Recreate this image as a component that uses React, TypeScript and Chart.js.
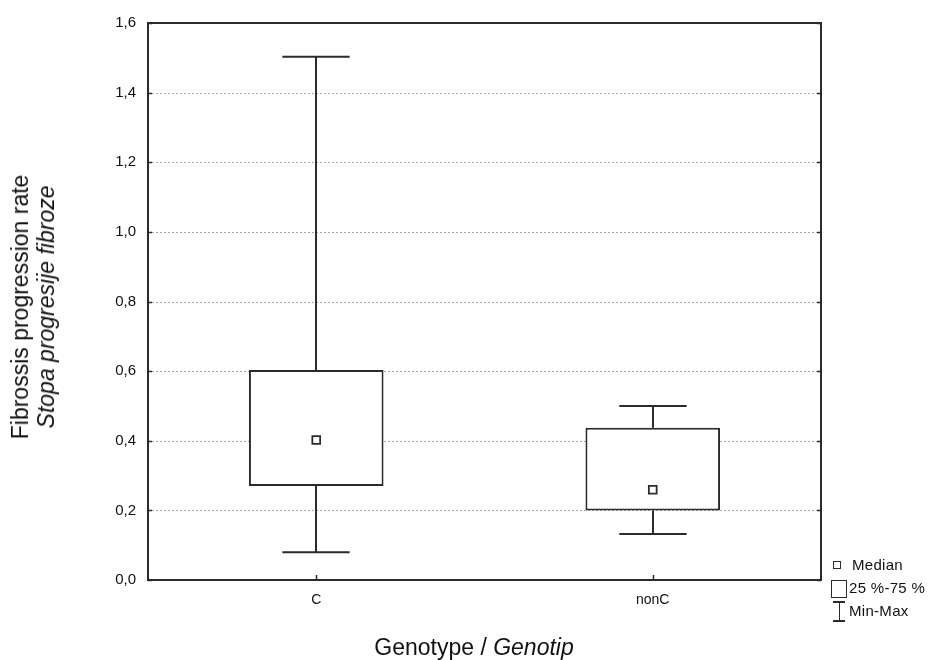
import React, { useEffect, useRef } from "react";
import { Chart, registerables } from "chart.js";

Chart.register(...registerables);

const categories = ["C", "nonC"];
const minValues = [0.08, 0.132];
const q1Values = [0.27, 0.2];
const medianValues = [0.402, 0.259];
const q3Values = [0.603, 0.437];
const maxValues = [1.503, 0.5];
const yTicks = [0, 0.2, 0.4, 0.6, 0.8, 1.0, 1.2, 1.4, 1.6];

const INK = "#2b2b2b";

const framePlugin = {
  id: "frameAndWhiskers",
  beforeDatasetsDraw(chart: any) {
    const { ctx, chartArea } = chart;
    const y = chart.scales.y;
    ctx.save();
    ctx.strokeStyle = "#a8a8a8";
    ctx.lineWidth = 1;
    ctx.setLineDash([2, 2]);
    yTicks.forEach((v) => {
      if (v <= 0 || v >= 1.6) return;
      const py = Math.round(y.getPixelForValue(v)) + 0.5;
      ctx.beginPath();
      ctx.moveTo(chartArea.left, py);
      ctx.lineTo(chartArea.right, py);
      ctx.stroke();
    });
    ctx.restore();
  },
  afterDatasetsDraw(chart: any) {
    const { ctx, chartArea } = chart;
    const x = chart.scales.x;
    const y = chart.scales.y;
    const meta = chart.getDatasetMeta(0);
    ctx.save();
    ctx.strokeStyle = INK;
    ctx.lineWidth = 2;
    ctx.setLineDash([]);
    categories.forEach((_, i) => {
      const bar = meta.data[i];
      const cx = Math.round(bar.x);
      const half = bar.width / 4;
      const yMax = y.getPixelForValue(maxValues[i]);
      const yQ3 = y.getPixelForValue(q3Values[i]);
      const yQ1 = y.getPixelForValue(q1Values[i]);
      const yMin = y.getPixelForValue(minValues[i]);
      ctx.beginPath();
      ctx.moveTo(cx, yQ3);
      ctx.lineTo(cx, yMax);
      ctx.moveTo(cx - half, yMax);
      ctx.lineTo(cx + half, yMax);
      ctx.moveTo(cx, yQ1);
      ctx.lineTo(cx, yMin);
      ctx.moveTo(cx - half, yMin);
      ctx.lineTo(cx + half, yMin);
      ctx.stroke();
    });
    ctx.strokeRect(chartArea.left, chartArea.top, chartArea.right - chartArea.left, chartArea.bottom - chartArea.top);
    ctx.lineWidth = 1.5;
    ctx.beginPath();
    yTicks.forEach((v) => {
      const py = Math.round(y.getPixelForValue(v)) + 0.5;
      ctx.moveTo(chartArea.left, py);
      ctx.lineTo(chartArea.left + 4, py);
      ctx.moveTo(chartArea.right, py);
      ctx.lineTo(chartArea.right - 4, py);
    });
    categories.forEach((_, i) => {
      const px = Math.round(x.getPixelForValue(i)) + 0.5;
      ctx.moveTo(px, chartArea.bottom);
      ctx.lineTo(px, chartArea.bottom - 5);
    });
    ctx.stroke();
    ctx.restore();
  },
};

export default function App() {
  const canvasRef = useRef<HTMLCanvasElement | null>(null);

  useEffect(() => {
    document.body.style.margin = "0";
    const canvas = canvasRef.current;
    if (!canvas) return;
    const chart = new Chart(canvas, {
      type: "bar",
      data: {
        labels: categories,
        datasets: [
          {
            type: "bar",
            data: categories.map((_, i) => [q1Values[i], q3Values[i]]) as any,
            backgroundColor: "#ffffff",
            borderColor: INK,
            borderWidth: 2,
            borderSkipped: false,
            barPercentage: 0.4,
            categoryPercentage: 1,
            order: 2,
          },
          {
            type: "line",
            data: medianValues,
            showLine: false,
            pointStyle: "rect",
            pointRadius: 5.5,
            pointBackgroundColor: "#ffffff",
            pointBorderColor: INK,
            pointBorderWidth: 1.8,
            order: 1,
          } as any,
        ],
      },
      options: {
        animation: false,
        responsive: false,
        devicePixelRatio: 1,
        layout: { padding: { left: 0, top: 23, right: 112, bottom: 0 } },
        plugins: { legend: { display: false }, tooltip: { enabled: false } },
        scales: {
          x: {
            grid: { display: false, drawTicks: false },
            border: { display: false },
            ticks: {
              color: "#111",
              padding: 12,
              font: { family: "'Liberation Sans', Arial, sans-serif", size: 14 },
            },
            afterFit(scale: any) {
              scale.height = 80;
            },
          },
          y: {
            min: 0,
            max: 1.6,
            grid: { display: false, drawTicks: false },
            border: { display: false },
            ticks: {
              stepSize: 0.2,
              color: "#111",
              padding: 12,
              font: { family: "'Liberation Sans', Arial, sans-serif", size: 15 },
              callback: (v: any) => Number(v).toFixed(1).replace(".", ","),
            },
            afterFit(scale: any) {
              scale.width = 148;
            },
          },
        },
      },
      plugins: [framePlugin],
    });
    return () => chart.destroy();
  }, []);

  const titleFont = "'Liberation Sans', Arial, sans-serif";
  const legendFont: React.CSSProperties = {
    position: "absolute",
    fontFamily: titleFont,
    fontSize: 15,
    letterSpacing: "0.3px",
    color: "#111",
    whiteSpace: "nowrap",
    lineHeight: "16px",
  };

  return (
    <div style={{ position: "relative", width: 933, height: 660, background: "#fff", overflow: "hidden" }}>
      <canvas ref={canvasRef} width={933} height={660} style={{ position: "absolute", left: 0, top: 0 }} />
      <div
        style={{
          position: "absolute",
          left: 33,
          top: 307,
          transform: "translate(-50%, -50%) rotate(-90deg)",
          fontFamily: titleFont,
          fontSize: 23,
          lineHeight: "26px",
          textAlign: "center",
          whiteSpace: "nowrap",
          color: "#111",
        }}
      >
        <div>Fibrossis progression rate</div>
        <div style={{ fontStyle: "italic" }}>Stopa progresije fibroze</div>
      </div>
      <div
        style={{
          position: "absolute",
          left: 474,
          top: 647,
          transform: "translate(-50%, -50%)",
          fontFamily: titleFont,
          fontSize: 23,
          whiteSpace: "nowrap",
          color: "#111",
        }}
      >
        Genotype / <span style={{ fontStyle: "italic" }}>Genotip</span>
      </div>
      <div style={{ position: "absolute", left: 833, top: 561, width: 6, height: 6, border: "1.5px solid #2b2b2b" }} />
      <div style={{ ...legendFont, left: 852, top: 557 }}>Median</div>
      <div style={{ position: "absolute", left: 831, top: 580, width: 14, height: 16, border: "1.5px solid #2b2b2b" }} />
      <div style={{ ...legendFont, left: 849, top: 580 }}>25 %-75 %</div>
      <div style={{ position: "absolute", left: 833, top: 601, width: 12, height: 1.5, background: "#2b2b2b" }} />
      <div style={{ position: "absolute", left: 838.5, top: 601, width: 1.5, height: 20, background: "#2b2b2b" }} />
      <div style={{ position: "absolute", left: 833, top: 620, width: 12, height: 1.5, background: "#2b2b2b" }} />
      <div style={{ ...legendFont, left: 849, top: 603 }}>Min-Max</div>
    </div>
  );
}
